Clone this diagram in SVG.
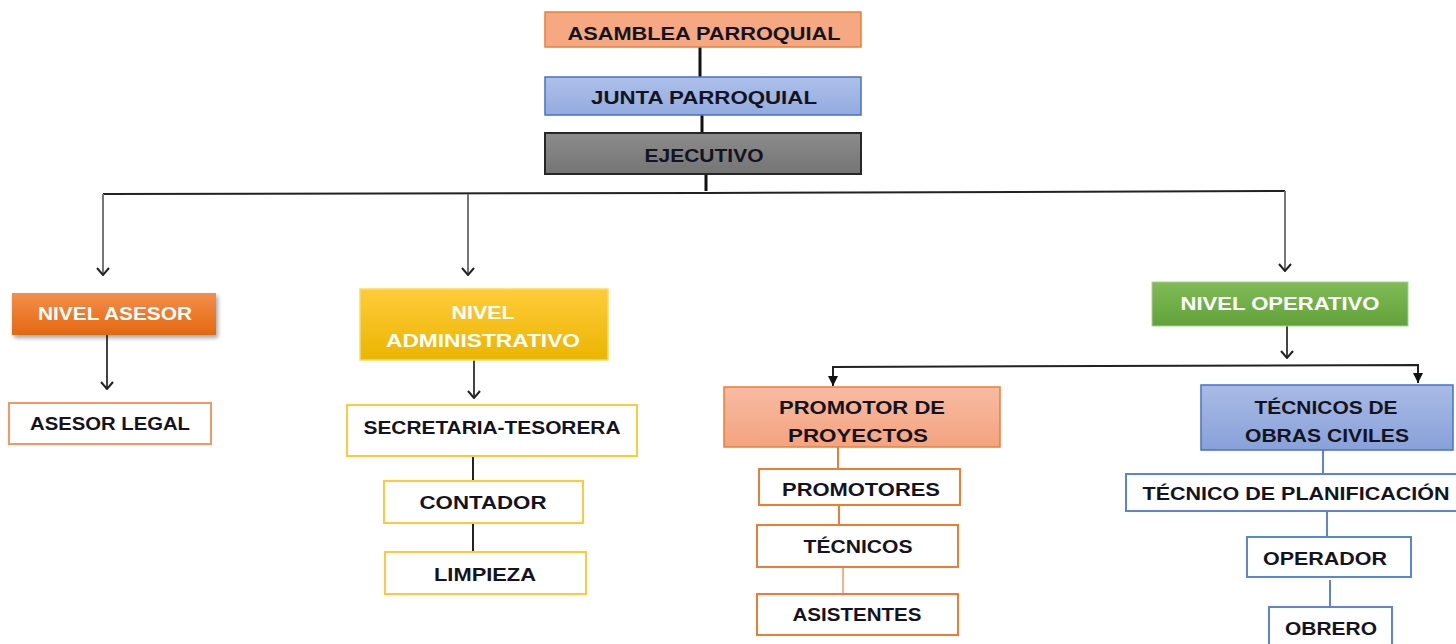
<svg xmlns="http://www.w3.org/2000/svg" width="1456" height="644" viewBox="0 0 1456 644">
<defs>
<linearGradient id="gAsesor" x1="0" y1="0" x2="0" y2="1"><stop offset="0" stop-color="#F58E4A"/><stop offset="1" stop-color="#E2680F"/></linearGradient>
<linearGradient id="gAdmin" x1="0" y1="0" x2="0" y2="1"><stop offset="0" stop-color="#FFCC3A"/><stop offset="1" stop-color="#EBB500"/></linearGradient>
<linearGradient id="gOper" x1="0" y1="0" x2="0" y2="1"><stop offset="0" stop-color="#80BB58"/><stop offset="1" stop-color="#62A23A"/></linearGradient>
<linearGradient id="gJunta" x1="0" y1="0" x2="0" y2="1"><stop offset="0" stop-color="#AEC0EA"/><stop offset="1" stop-color="#93ABDF"/></linearGradient>
<linearGradient id="gTec" x1="0" y1="0" x2="0" y2="1"><stop offset="0" stop-color="#A9BBE5"/><stop offset="1" stop-color="#88A1D9"/></linearGradient>
<linearGradient id="gProm" x1="0" y1="0" x2="0" y2="1"><stop offset="0" stop-color="#F7BBA2"/><stop offset="1" stop-color="#F4A37F"/></linearGradient>
<linearGradient id="gEjec" x1="0" y1="0" x2="0" y2="1"><stop offset="0" stop-color="#8C8C8C"/><stop offset="1" stop-color="#747474"/></linearGradient>
<filter id="shadow" x="-10%" y="-20%" width="130%" height="160%"><feDropShadow dx="2" dy="3" stdDeviation="2" flood-color="#000" flood-opacity="0.35"/></filter>
<marker id="chev" viewBox="0 0 9 14" refX="8" refY="7" markerWidth="9" markerHeight="14" markerUnits="userSpaceOnUse" orient="auto">
<path d="M1,1 L8,7 L1,13" fill="none" stroke="#222" stroke-width="2"/>
</marker>
<marker id="tri" viewBox="0 0 10 10" refX="5" refY="10" markerWidth="10" markerHeight="10" markerUnits="userSpaceOnUse">
<path d="M0,0 L10,0 L5,10 Z" fill="#111"/>
</marker>
</defs>
<style>
text{font-family:"Liberation Sans",Arial,sans-serif;font-weight:bold;font-size:18px;text-anchor:middle;fill:#141420}
.w{fill:#FFFFFF}
.box{fill:#FFFFFF;stroke-width:2}
.conn line,.conn path{fill:none}
</style>
<rect width="1456" height="644" fill="#FFFFFF"/>

<g class="conn">
<line x1="700" y1="47" x2="700" y2="77" stroke="#111" stroke-width="3"/>
<line x1="702" y1="115" x2="702" y2="133" stroke="#111" stroke-width="3"/>
<line x1="706" y1="174" x2="706" y2="191" stroke="#111" stroke-width="3"/>
<path d="M103,194 L706,193 L1285,191" stroke="#222" stroke-width="2"/>
<line x1="103" y1="194" x2="103" y2="275" stroke="#777" stroke-width="2" marker-end="url(#chev)"/>
<line x1="468" y1="194" x2="468" y2="275" stroke="#777" stroke-width="2" marker-end="url(#chev)"/>
<line x1="1285" y1="191" x2="1285" y2="271" stroke="#777" stroke-width="2" marker-end="url(#chev)"/>
<line x1="107" y1="335" x2="107" y2="389" stroke="#444" stroke-width="2" marker-end="url(#chev)"/>
<line x1="474" y1="360" x2="474" y2="398" stroke="#444" stroke-width="2" marker-end="url(#chev)"/>
<line x1="473" y1="453" x2="473" y2="481" stroke="#222" stroke-width="2"/>
<line x1="473" y1="523" x2="473" y2="552" stroke="#222" stroke-width="2"/>
<line x1="1287" y1="326" x2="1287" y2="358" stroke="#444" stroke-width="2" marker-end="url(#chev)"/>
<path d="M833,377 L833,367 L1418,365 L1418,374" stroke="#222" stroke-width="2"/>
<line x1="833" y1="376" x2="833" y2="386" stroke="#222" stroke-width="2" marker-end="url(#tri)"/>
<line x1="1418" y1="373" x2="1418" y2="383" stroke="#222" stroke-width="2" marker-end="url(#tri)"/>
<line x1="838" y1="447" x2="838" y2="469" stroke="#ED7D31" stroke-width="2"/>
<line x1="839" y1="505" x2="839" y2="525" stroke="#ED7D31" stroke-width="2"/>
<line x1="843" y1="567" x2="843" y2="594" stroke="#F6B08F" stroke-width="2"/>
<line x1="1323" y1="450" x2="1323" y2="474" stroke="#5B86CF" stroke-width="2"/>
<line x1="1327" y1="511" x2="1327" y2="537" stroke="#5B86CF" stroke-width="2"/>
<line x1="1330" y1="580" x2="1330" y2="607" stroke="#5B86CF" stroke-width="2"/>
</g>

<g id="asamblea">
<rect x="545" y="12" width="316" height="35" fill="#F6A883" stroke="#ED7D31" stroke-width="1.5"/>
<text x="704" y="40" textLength="273" lengthAdjust="spacingAndGlyphs">ASAMBLEA PARROQUIAL</text>
</g>
<g id="junta">
<rect x="545" y="77" width="316" height="38" fill="url(#gJunta)" stroke="#4472C4" stroke-width="1.5"/>
<text x="704" y="104" textLength="226" lengthAdjust="spacingAndGlyphs">JUNTA PARROQUIAL</text>
</g>
<g id="ejecutivo">
<rect x="545" y="133" width="316" height="41" fill="url(#gEjec)" stroke="#262626" stroke-width="2"/>
<text x="704" y="162" textLength="119" lengthAdjust="spacingAndGlyphs">EJECUTIVO</text>
</g>

<g id="nivel-asesor">
<rect x="12" y="293" width="204" height="42" fill="url(#gAsesor)" filter="url(#shadow)"/>
<text class="w" x="115" y="320" textLength="154" lengthAdjust="spacingAndGlyphs">NIVEL ASESOR</text>
</g>
<g id="asesor-legal">
<rect class="box" x="9" y="403" width="202" height="41" stroke="#F29860"/>
<text x="110" y="430" textLength="160" lengthAdjust="spacingAndGlyphs">ASESOR LEGAL</text>
</g>

<g id="nivel-administrativo">
<rect x="360" y="289" width="248" height="71" fill="url(#gAdmin)" stroke="#FFD966" stroke-width="1.5"/>
<text class="w" x="483" y="319" textLength="63" lengthAdjust="spacingAndGlyphs">NIVEL</text>
<text class="w" x="483" y="347" textLength="194" lengthAdjust="spacingAndGlyphs">ADMINISTRATIVO</text>
</g>
<g id="secretaria">
<rect class="box" x="347" y="405" width="290" height="51" stroke="#FFC83D"/>
<text x="492" y="434" textLength="257" lengthAdjust="spacingAndGlyphs">SECRETARIA-TESORERA</text>
</g>
<g id="contador">
<rect class="box" x="384" y="481" width="199" height="42" stroke="#FFC83D"/>
<text x="483" y="509" textLength="127" lengthAdjust="spacingAndGlyphs">CONTADOR</text>
</g>
<g id="limpieza">
<rect class="box" x="385" y="552" width="201" height="42" stroke="#FFC83D"/>
<text x="485" y="581" textLength="102" lengthAdjust="spacingAndGlyphs">LIMPIEZA</text>
</g>

<g id="nivel-operativo">
<rect x="1152" y="282" width="256" height="44" fill="url(#gOper)" stroke="#A9D18E" stroke-width="1"/>
<text class="w" x="1280" y="310" textLength="199" lengthAdjust="spacingAndGlyphs">NIVEL OPERATIVO</text>
</g>

<g id="promotor-proyectos">
<rect x="724" y="387" width="276" height="60" fill="url(#gProm)" stroke="#ED7D31" stroke-width="1.5"/>
<text x="862" y="414" textLength="166" lengthAdjust="spacingAndGlyphs">PROMOTOR DE</text>
<text x="858" y="442" textLength="140" lengthAdjust="spacingAndGlyphs">PROYECTOS</text>
</g>
<g id="promotores">
<rect class="box" x="759" y="469" width="201" height="36" stroke="#ED7D31"/>
<text x="861" y="496" textLength="158" lengthAdjust="spacingAndGlyphs">PROMOTORES</text>
</g>
<g id="tecnicos">
<rect class="box" x="757" y="525" width="201" height="42" stroke="#ED7D31"/>
<text x="858" y="553" textLength="109" lengthAdjust="spacingAndGlyphs">TÉCNICOS</text>
</g>
<g id="asistentes">
<rect class="box" x="757" y="594" width="201" height="41" stroke="#ED7D31"/>
<text x="857" y="621" textLength="129" lengthAdjust="spacingAndGlyphs">ASISTENTES</text>
</g>

<g id="tecnicos-obras">
<rect x="1201" y="385" width="252" height="65" fill="url(#gTec)" stroke="#4472C4" stroke-width="1.5"/>
<text x="1326" y="414" textLength="143" lengthAdjust="spacingAndGlyphs">TÉCNICOS DE</text>
<text x="1327" y="442" textLength="164" lengthAdjust="spacingAndGlyphs">OBRAS CIVILES</text>
</g>
<g id="tecnico-planificacion">
<rect class="box" x="1126" y="474" width="334" height="37" stroke="#5B86CF"/>
<text x="1296" y="500" textLength="307" lengthAdjust="spacingAndGlyphs">TÉCNICO DE PLANIFICACIÓN</text>
</g>
<g id="operador">
<rect class="box" x="1247" y="537" width="164" height="40" stroke="#5B86CF"/>
<text x="1325" y="565" textLength="124" lengthAdjust="spacingAndGlyphs">OPERADOR</text>
</g>
<g id="obrero">
<rect class="box" x="1269" y="607" width="123" height="44" stroke="#5B86CF"/>
<text x="1331" y="635" textLength="92" lengthAdjust="spacingAndGlyphs">OBRERO</text>
</g>
</svg>
